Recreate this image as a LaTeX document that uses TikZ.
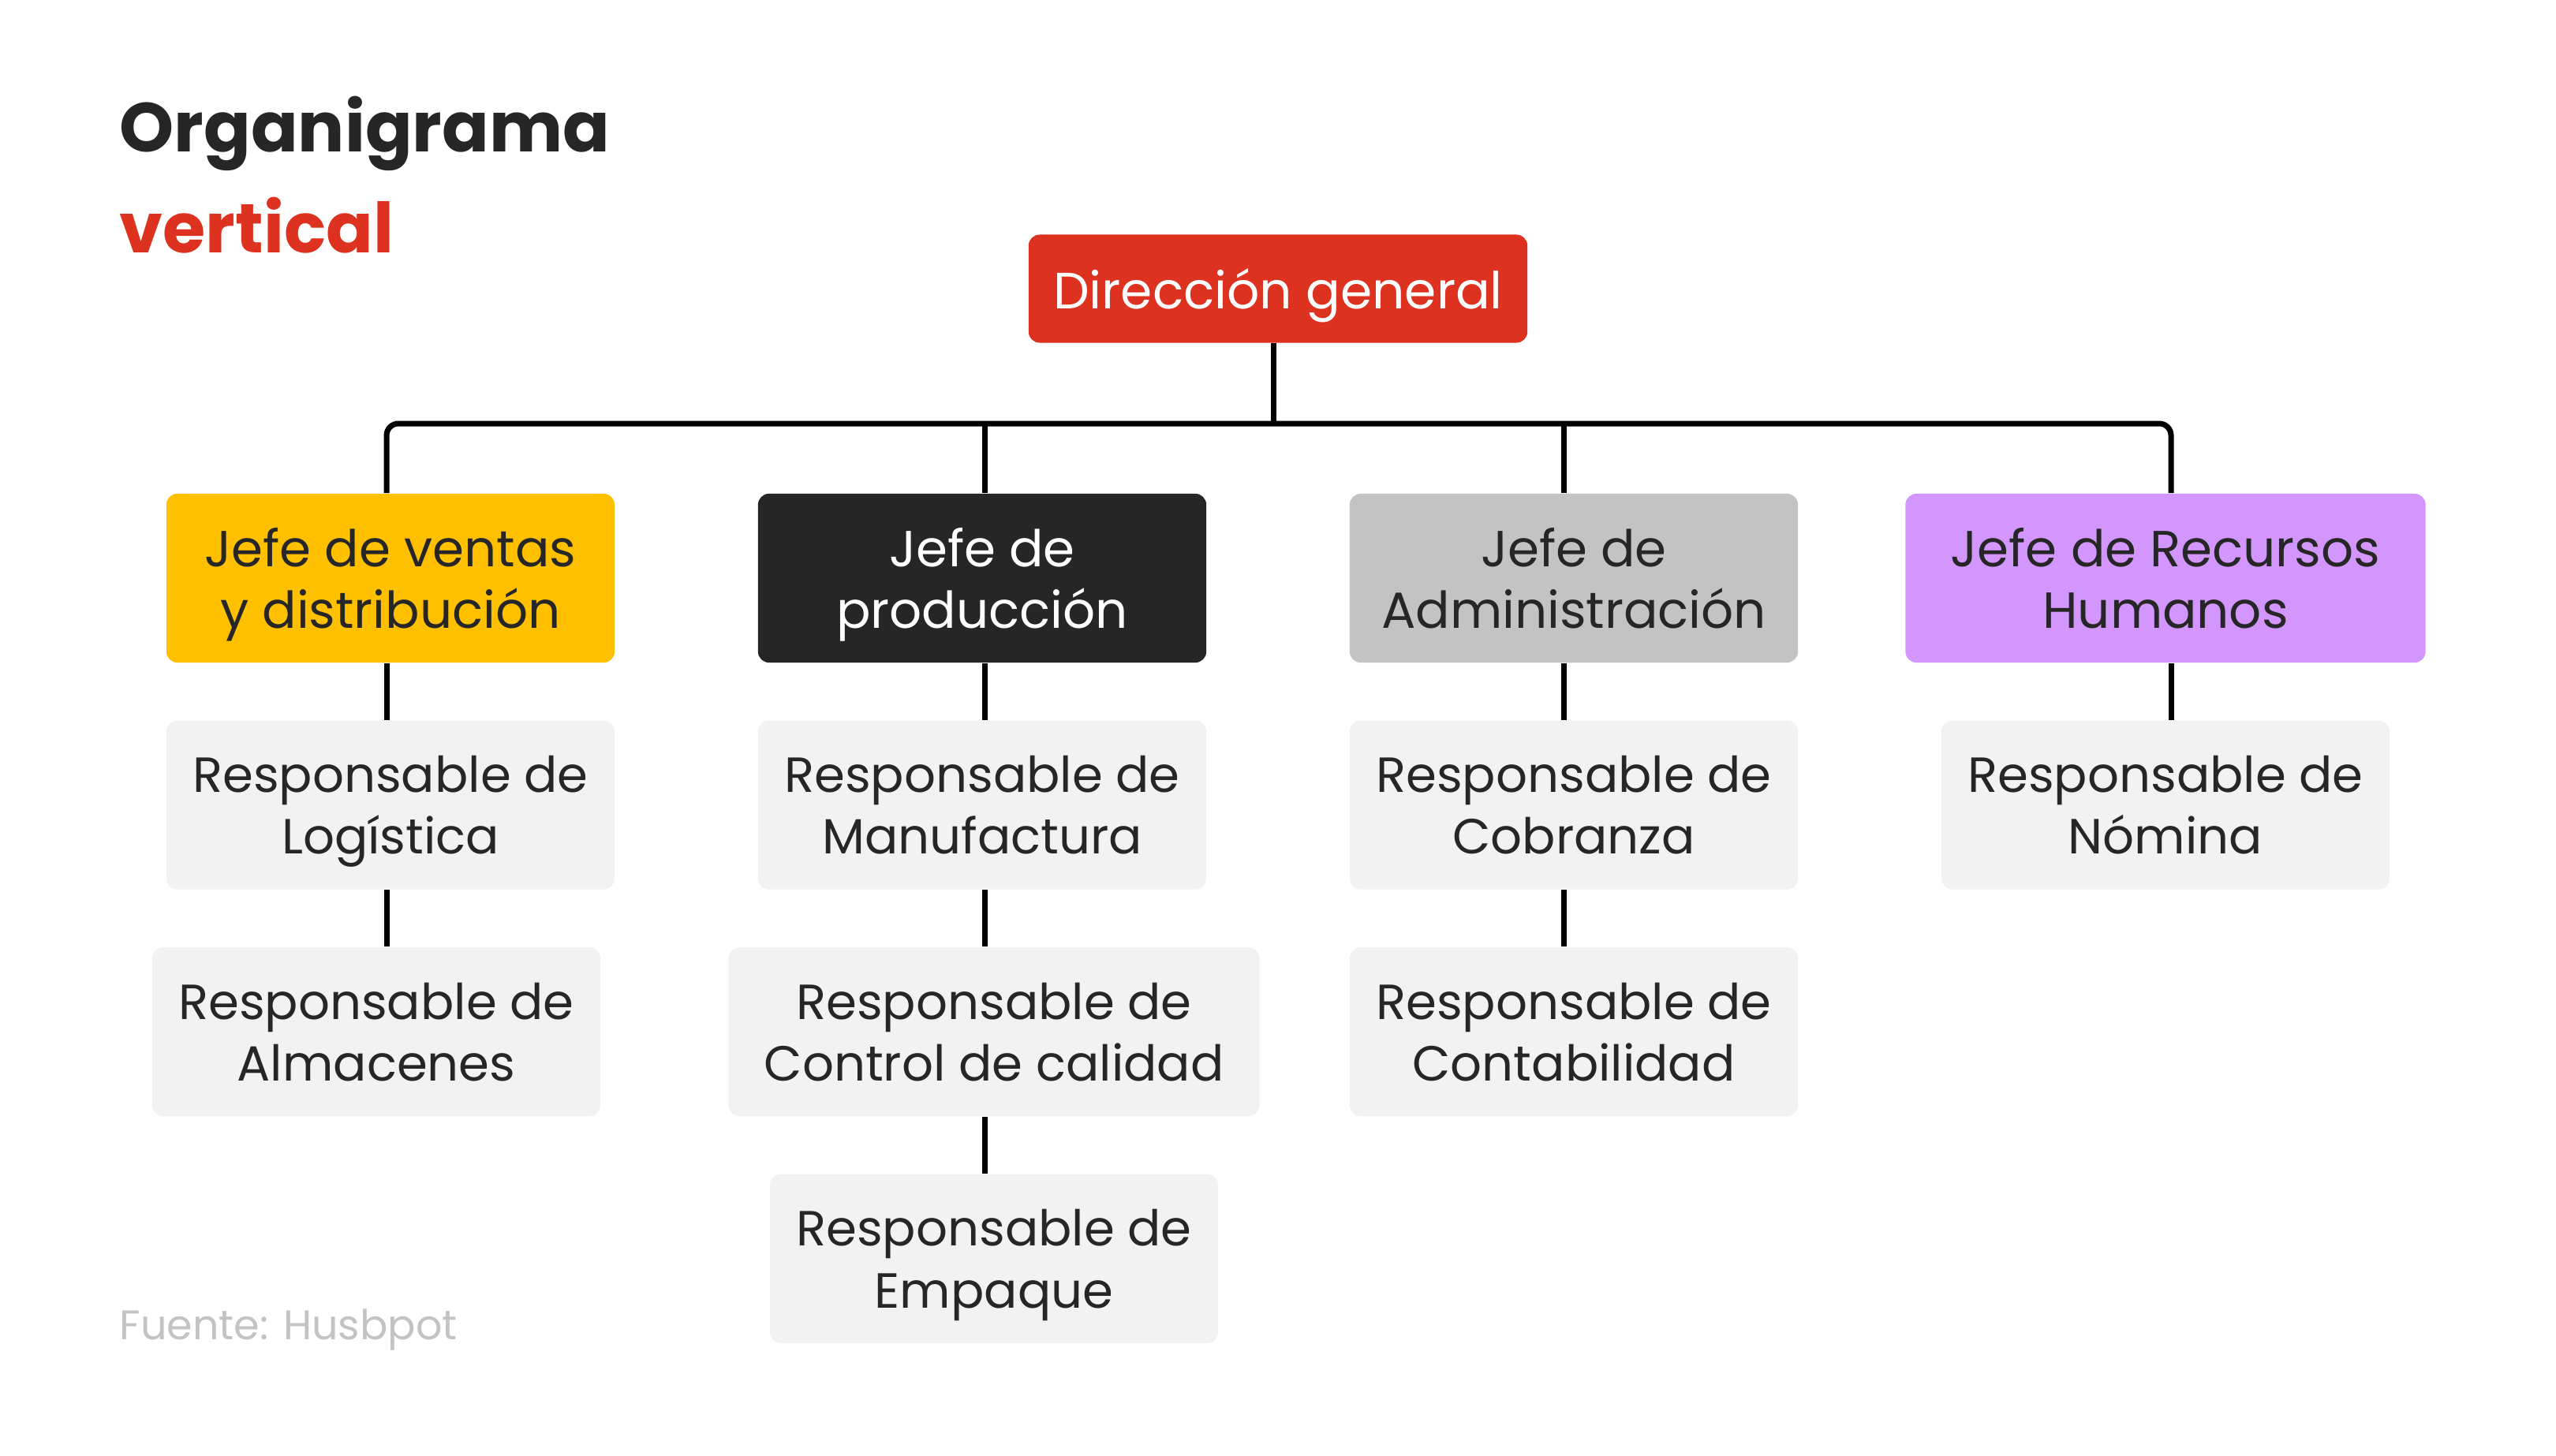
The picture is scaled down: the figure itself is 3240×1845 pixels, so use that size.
\documentclass[tikz,border=0pt]{standalone}
\usepackage{fontspec}
\setmainfont{Poppins}
\usetikzlibrary{positioning}
\definecolor{orgred}{HTML}{DE3220}
\definecolor{orgdark}{HTML}{262626}
\definecolor{orgyellow}{HTML}{FFC000}
\definecolor{orggrey}{HTML}{C3C3C3}
\definecolor{orglilac}{HTML}{D396FC}
\definecolor{orglight}{HTML}{F2F2F2}

\begin{document}
\begin{tikzpicture}[x=0.01cm, y=-0.01cm,
		font=\fontsize{17.8}{22.3}\selectfont, node distance=0.72cm,
		box/.style={rounded corners=0.14cm, minimum height=2.14cm,
		            minimum width=5.68cm, align=center, text=orgdark, text depth=0pt},
		head/.style={box, font=\fontsize{18.3}{22.3}\selectfont},
		sub/.style={box, fill=orglight},
		lin/.style={line width=0.07cm, black}]
		\useasboundingbox[fill=white] (0,0) rectangle (3240,1845);
		% title
		\node[anchor=base west, inner sep=0, text=orgdark,
		      font=\fontsize{25}{30}\selectfont\bfseries] (t1) at (151,192) {Organigrama};
		\node[anchor=base west, inner sep=0, text=orgred,
		      font=\fontsize{25}{30}\selectfont\bfseries] (t2) at (151,320) {vertical};
		\node[anchor=base west, inner sep=0, text=orggrey,
		      font=\fontsize{14.9}{17}\selectfont] (src) at (151,1698) {Fuente: Husbpot};
		% top
		\node[head, fill=orgred, text=white, minimum width=6.32cm, minimum height=1.37cm,
		      font=\fontsize{18.4}{22.3}\selectfont] (dir) at (1620,366) {Dirección general};
		% heads
		\node[head, fill=orgyellow] (ventas) at (495,733) {Jefe de ventas\\y distribución};
		\node[head, fill=orgdark, text=white] (prod) at (1245,733) {Jefe de\\producción};
		\node[head, fill=orggrey] (admin) at (1995,733) {Jefe de\\Administración};
		\node[head, fill=orglilac, minimum width=6.59cm] (rrhh) at (2745,733) {Jefe de Recursos\\Humanos};
		% responsables
		\node[sub, below=of ventas] (logis) {Responsable de\\Logística};
		\node[sub, below=of logis, xshift=-0.18cm] (almac) {Responsable de\\Almacenes};
		\node[sub, below=of prod] (manuf) {Responsable de\\Manufactura};
		\node[sub, below=of manuf, xshift=0.15cm, minimum width=6.73cm] (calid) {Responsable de\\Control de calidad};
		\node[sub, below=of calid] (empaq) {Responsable de\\Empaque};
		\node[sub, below=of admin] (cobra) {Responsable de\\Cobranza};
		\node[sub, below=of cobra] (conta) {Responsable de\\Contabilidad};
		\node[sub, below=of rrhh] (nomin) {Responsable de\\Nómina};
		% lines
		\coordinate (bus) at (1614,537);
		\coordinate (c1) at (490,0);
		\coordinate (c2) at (1248,0);
		\coordinate (c3) at (1982,0);
		\coordinate (c4) at (2752,0);
		\draw[lin] (dir.south -| bus) -- (bus);
		\draw[lin, rounded corners=0.15cm] (ventas.north -| c1) |- (bus) -| (rrhh.north -| c4);
		\draw[lin] (bus -| c2) -- (prod.north -| c2);
		\draw[lin] (bus -| c3) -- (admin.north -| c3);
		\draw[lin] (ventas.south -| c1) -- (logis.north -| c1);
		\draw[lin] (logis.south -| c1) -- (almac.north -| c1);
		\draw[lin] (prod.south -| c2) -- (manuf.north -| c2);
		\draw[lin] (manuf.south -| c2) -- (calid.north -| c2);
		\draw[lin] (calid.south -| c2) -- (empaq.north -| c2);
		\draw[lin] (admin.south -| c3) -- (cobra.north -| c3);
		\draw[lin] (cobra.south -| c3) -- (conta.north -| c3);
		\draw[lin] (rrhh.south -| c4) -- (nomin.north -| c4);
	\end{tikzpicture}
\end{document}
